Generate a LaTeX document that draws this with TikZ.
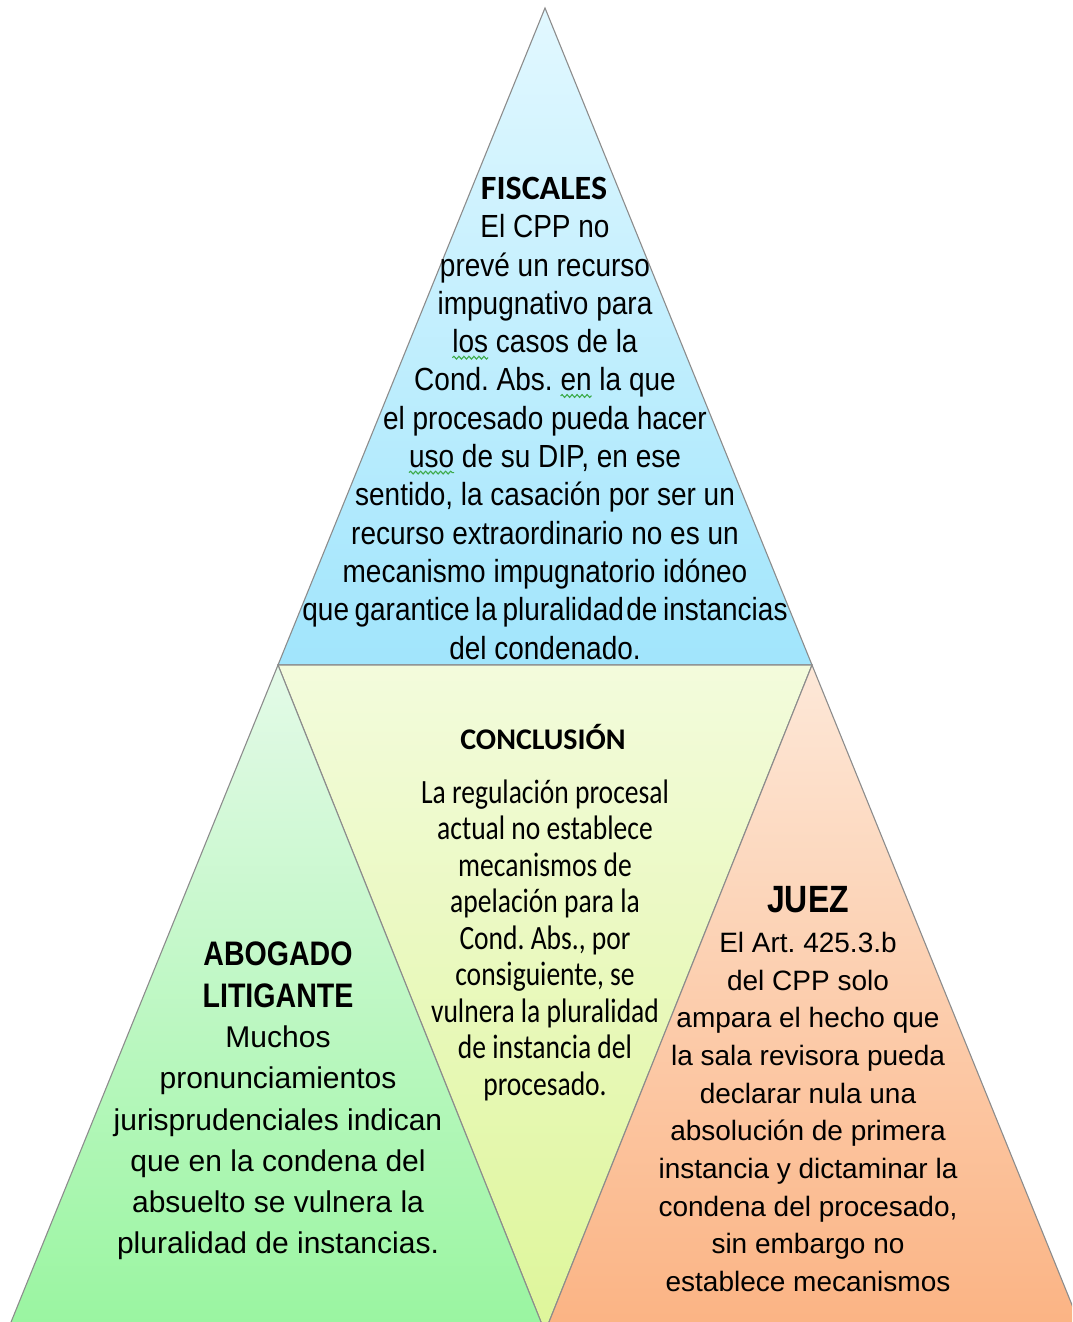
\documentclass[tikz,border=0pt]{standalone}
\usepackage{fontspec}
\setmainfont{Liberation Sans}
\newfontfamily\headfont[FakeStretch=0.84]{Liberation Sans}
\newfontfamily\topfont[FakeStretch=0.875]{Liberation Sans}
\newfontfamily\calfont{Carlito}
\newfontfamily\calnarrow[FakeStretch=0.81]{Carlito}
\usetikzlibrary{calc,decorations.pathmorphing}
\frenchspacing

\definecolor{edgegray}{HTML}{8C8C8C}
\definecolor{spellgreen}{HTML}{3DAA4A}
\definecolor{topA}{HTML}{E2F8FF}
\definecolor{topB}{HTML}{A1E5FC}
\definecolor{midA}{HTML}{F3FBDC}
\definecolor{midB}{HTML}{DEF69A}
\definecolor{leftA}{HTML}{E4FAE8}
\definecolor{leftB}{HTML}{99F5A0}
\definecolor{rightA}{HTML}{FDE8D8}
\definecolor{rightB}{HTML}{FBB383}

% wavy spell-check mark under a word
\newcommand\spellmark[1]{\tikz[baseline=(w.base),x=1pt,y=1pt]{\node[inner sep=0pt,outer sep=0pt] (w) {#1};
  \draw[overlay, draw=spellgreen, line width=1.1pt, decorate, decoration={snake, amplitude=1.4pt, segment length=5pt}]
    ([yshift=-5pt]w.base west) -- ([yshift=-5pt]w.base east);}}

\begin{document}
\begin{tikzpicture}[x=1pt,y=-1pt]


 \tikzset{
    part/.style={
      draw=edgegray,
      line width=1.1pt,
      line join=miter
    },
    txt/.style={
      align=center,
      inner sep=0pt,
      outer sep=0pt,
      text=black
    }
  }

\useasboundingbox (0,0) rectangle (1072,1322);
\clip (0,0) rectangle (1072,1322);

\coordinate (apex) at (545,8);
\coordinate (lmid) at (278,665);
\coordinate (rmid) at (812,665);
\coordinate (bmid) at (545,1332);
\coordinate (lbase) at (7,1332);
\coordinate (rbase) at (1083,1332);

\shade [part, top color=topA, bottom color=topB] (apex) -- (rmid) -- (lmid) -- cycle;
\shade [part, top color=midA, bottom color=midB] (lmid) -- (rmid) -- (bmid) -- cycle;
\shade [part, top color=leftA, bottom color=leftB] (lmid) -- (bmid) -- (lbase) -- cycle;
\shade [part, top color=rightA, bottom color=rightB] (rmid) -- (rbase) -- (bmid) -- cycle;


\node [txt, font=\calfont\fontsize{34}{38}\selectfont\bfseries] (fiscales) at (544,188) {FISCALES};
\node [txt, font=\topfont\fontsize{32}{38.3}\selectfont] (fiscalestxt) at (545,437) {El CPP no\\
prevé un recurso\\
impugnativo para\\
\spellmark{los} casos de la\\
Cond. Abs. \spellmark{en} la que\\
el procesado pueda hacer\\
\spellmark{uso} de su DIP, en ese\\
sentido, la casación por ser un\\
recurso extraordinario no es un\\
mecanismo impugnatorio idóneo\\
{\spaceskip=5.5pt\relax que garantice la pluralidad\kern-3pt{} de instancias}\\
del condenado.};

\node [txt, font=\calfont\fontsize{30}{36}\selectfont\bfseries] (conclusion) at (543,737) {CONCLUSIÓN};
\node [txt, font=\calnarrow\fontsize{34}{36.5}\selectfont] (conclusiontxt) at (545,940) {La regulación procesal\\
actual no establece\\
mecanismos de\\
apelación para la\\
Cond. Abs., por\\
consiguiente, se\\
vulnera la pluralidad\\
de instancia del\\
procesado.};

\node [txt, font=\headfont\fontsize{34}{42}\selectfont\bfseries] (abogado) at (278,975) {ABOGADO\\
LITIGANTE};
\node [txt, font=\fontsize{30}{41.2}\selectfont] (abogadotxt) at (278,1143) {Muchos\\
pronunciamientos\\
jurisprudenciales indican\\
que en la condena del\\
absuelto se vulnera la\\
pluralidad de instancias.};

\node [txt, font=\headfont\fontsize{38}{40}\selectfont\bfseries] (juez) at (808,900) {JUEZ};
\node [txt, font=\fontsize{28}{37.7}\selectfont] (jueztxt) at (808,1112) {El Art. 425.3.b\\
del CPP solo\\
ampara el hecho que\\
la sala revisora pueda\\
declarar nula una\\
absolución de primera\\
instancia y dictaminar la\\
condena del procesado,\\
sin embargo no\\
establece mecanismos};
\end{tikzpicture}
\end{document}
